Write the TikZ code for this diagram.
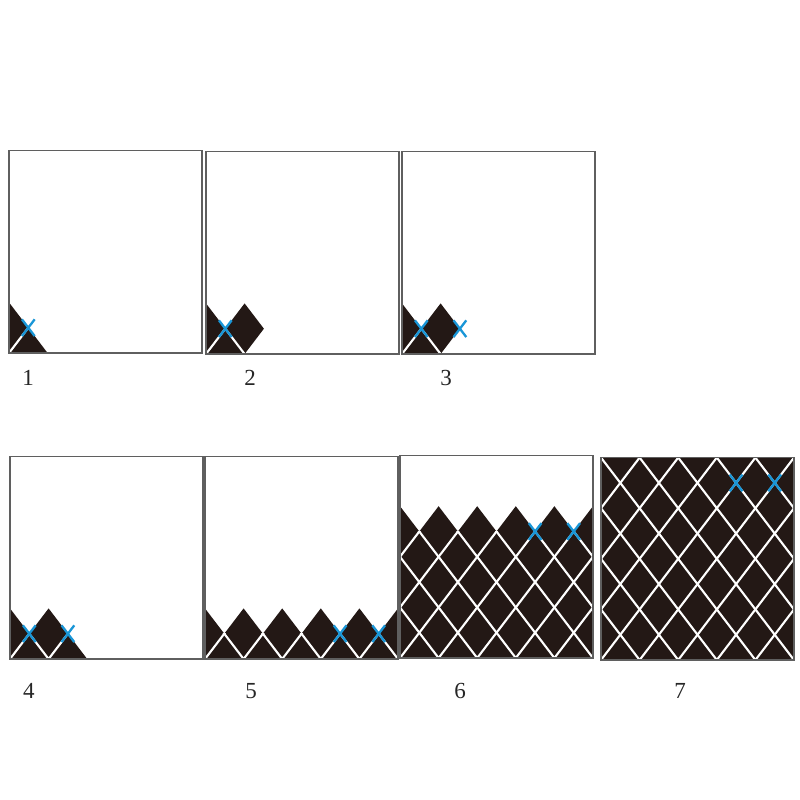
\documentclass[tikz,border=0pt]{standalone}
\usepackage{fontspec}
\setmainfont{Liberation Serif}
\definecolor{ink}{RGB}{35,24,21}
\definecolor{markblue}{RGB}{25,150,215}
\definecolor{framegray}{RGB}{95,95,95}
\tikzset{
  frame/.style={draw=framegray, line width=1.5pt},
  blk/.style={fill=ink},
  wl/.style={draw=white, line width=2.1pt},
  bl/.style={draw=markblue, line width=2.3pt},
  lbl/.style={font=\fontsize{23}{23}\selectfont, inner sep=0pt, text=black!85},
  lat/.style={x={(19.3pt,0pt)}, y={(0pt,25.3pt)}}
}
\newcommand\bluex[2]{\draw[bl] (#1-0.33,#2-0.33) -- (#1+0.33,#2+0.33) (#1-0.33,#2+0.33) -- (#1+0.33,#2-0.33);}
\newcommand\panelframe{\draw[frame] (0,0) rectangle (10,8);}
\begin{document}
\begin{tikzpicture}[x=1pt,y=-1pt]
\useasboundingbox[fill=white] (0,0) rectangle (800,800);

% Panel 1
\begin{scope}[shift={(9,353)},lat]
  \fill[blk] (0,0) -- (0,2) -- (2,0) -- cycle;
  \draw[wl] (0,0) -- (1,1);
  \bluex{1}{1}
  \panelframe
\end{scope}

% Panel 2
\begin{scope}[shift={(206,354)},lat]
  \fill[blk] (0,0) -- (0,2) -- (1,1) -- (2,2) -- (3,1) -- (2,0) -- cycle;
  \draw[wl] (0,0) -- (1,1) -- (2,0);
  \bluex{1}{1}
  \panelframe
\end{scope}

% Panel 3
\begin{scope}[shift={(402,354)},lat]
  \fill[blk] (0,0) -- (0,2) -- (1,1) -- (2,2) -- (3,1) -- (2,0) -- cycle;
  \draw[wl] (0,0) -- (1,1) -- (2,0);
  \bluex{1}{1}
  \bluex{3}{1}
  \panelframe
\end{scope}

% Panel 4
\begin{scope}[shift={(10,659)},lat]
  \fill[blk] (0,0) -- (0,2) -- (1,1) -- (2,2) -- (4,0) -- cycle;
  \draw[wl] (0,0) -- (1,1) -- (2,0) -- (3,1);
  \bluex{1}{1}
  \bluex{3}{1}
  \panelframe
\end{scope}

% Panel 5
\begin{scope}[shift={(205,659)},lat]
  \fill[blk] (0,0) -- (0,2) \foreach \i in {1,3,5,7,9} { -- (\i,1) -- (\i+1,2) } -- (10,0) -- cycle;
  \begin{scope}
    \clip (0,0) rectangle (10,1);
    \foreach \k in {-8,-6,...,18} {
      \draw[wl] (\k,0) -- ++(8,8);
      \draw[wl] (\k,0) -- ++(-8,8);
    }
  \end{scope}
  \bluex{7}{1}
  \bluex{9}{1}
  \panelframe
\end{scope}

% Panel 6
\begin{scope}[shift={(400,658)},lat]
  \fill[blk] (0,0) -- (0,6) \foreach \i in {1,3,5,7,9} { -- (\i,5) -- (\i+1,6) } -- (10,0) -- cycle;
  \begin{scope}
    \clip (0,0) rectangle (10,5);
    \foreach \k in {-8,-6,...,18} {
      \draw[wl] (\k,0) -- ++(8,8);
      \draw[wl] (\k,0) -- ++(-8,8);
    }
  \end{scope}
  \bluex{7}{5}
  \bluex{9}{5}
  \panelframe
\end{scope}

% Panel 7
\begin{scope}[shift={(601,660)},lat]
  \fill[blk] (0,0) rectangle (10,8);
  \begin{scope}
    \clip (0,0) rectangle (10,8);
    \foreach \k in {-8,-6,...,18} {
      \draw[wl] (\k,0) -- ++(8,8);
      \draw[wl] (\k,0) -- ++(-8,8);
    }
  \end{scope}
  \bluex{7}{7}
  \bluex{9}{7}
  \panelframe
\end{scope}

% Labels
\node[lbl] (l1) at (28,378) {1};
\node[lbl] (l2) at (250,378) {2};
\node[lbl] (l3) at (446,378) {3};
\node[lbl] (l4) at (29,691) {4};
\node[lbl] (l5) at (251,691) {5};
\node[lbl] (l6) at (460,691) {6};
\node[lbl] (l7) at (680,691) {7};
\end{tikzpicture}
\end{document}
